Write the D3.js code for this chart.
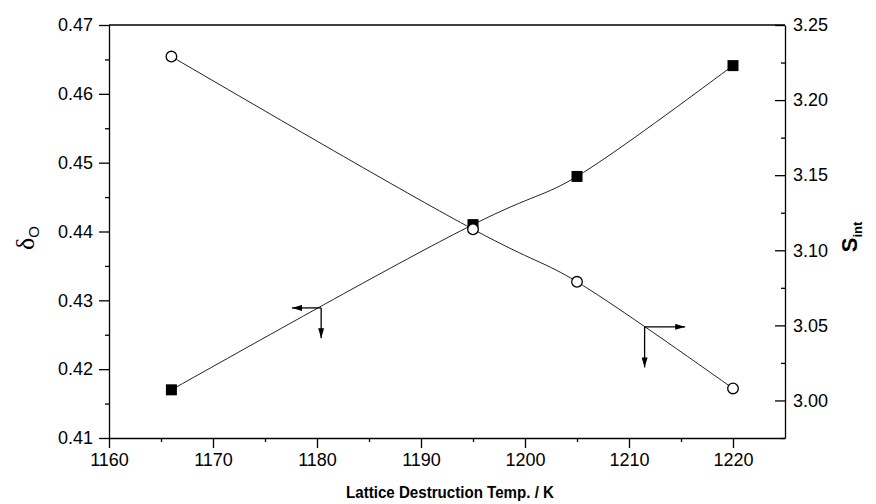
<!DOCTYPE html>
<html>
<head>
<meta charset="utf-8">
<script src="https://cdn.jsdelivr.net/npm/d3@7"></script>
<style>
  body { margin: 0; background: #fff; }
  svg { font-family: Arial, "Liberation Sans", sans-serif; }
</style>
</head>
<body>
<div id="container"></div>
<script>
// data
let temps = [1166, 1195, 1205, 1220];
let deltaO = [0.4170, 0.4410, 0.4480, 0.4641];   // filled squares, left axis
let sInt = [3.229, 3.114, 3.079, 3.008];         // open circles, right axis

let xTicks = [1160, 1170, 1180, 1190, 1200, 1210, 1220];
let yLeftTicks = [0.41, 0.42, 0.43, 0.44, 0.45, 0.46, 0.47];
let yRightTicks = [3.00, 3.05, 3.10, 3.15, 3.20, 3.25];

// arrow annotations: [corner x, corner y, end of horizontal x, end of vertical y]
let leftArrow = [1180.4, 0.4289, 1177.6, 0.4245];
let rightArrow = [1211.5, 3.049, 1215.4, 3.022];

let w = 876;
let h = 504;
let padLeft = 109, padRight = 785, padTop = 25, padBottom = 438;

let viz = d3.select("#container")
  .append("svg")
    .attr("width", w)
    .attr("height", h)
;

let xScale = d3.scaleLinear().domain([1160, 1225]).range([padLeft, padRight]);
let yLeft = d3.scaleLinear().domain([0.41, 0.47]).range([padBottom, padTop]);
let yRight = d3.scaleLinear().domain([2.975, 3.25]).range([padBottom, padTop]);

// frame top line
viz.append("line")
  .attr("x1", padLeft).attr("x2", padRight)
  .attr("y1", padTop).attr("y2", padTop)
  .attr("stroke", "black").attr("stroke-width", 1.3);

// minor ticks first
viz.append("g")
  .attr("transform", "translate(0," + padBottom + ")")
  .call(d3.axisBottom(xScale).tickValues(d3.range(1165, 1225, 10)).tickSize(4).tickFormat(""))
  .call(g => g.select(".domain").remove());
viz.append("g")
  .attr("transform", "translate(" + padLeft + ",0)")
  .call(d3.axisLeft(yLeft).tickValues(d3.range(0.415, 0.47, 0.01)).tickSize(4).tickFormat(""))
  .call(g => g.select(".domain").remove());
viz.append("g")
  .attr("transform", "translate(" + padRight + ",0)")
  .call(d3.axisRight(yRight).tickValues(d3.range(2.975, 3.25, 0.05)).tickSize(-4).tickFormat(""))
  .call(g => g.select(".domain").remove());

// main axes
let xAxisGroup = viz.append("g")
  .attr("transform", "translate(0," + padBottom + ")")
  .call(d3.axisBottom(xScale).tickValues(xTicks).tickSize(10).tickSizeOuter(0).tickPadding(5).tickFormat(d3.format("d")));

let yAxisLeftGroup = viz.append("g")
  .attr("transform", "translate(" + padLeft + ",0)")
  .call(d3.axisLeft(yLeft).tickValues(yLeftTicks).tickSize(10).tickSizeOuter(0).tickPadding(6).tickFormat(d3.format(".2f")));

let yAxisRightGroup = viz.append("g")
  .attr("transform", "translate(" + padRight + ",0)")
  .call(d3.axisRight(yRight).tickValues(yRightTicks).tickSize(-10).tickSizeOuter(0).tickPadding(8).tickFormat(d3.format(".2f")));

viz.selectAll(".tick text")
  .attr("font-size", 18)
  .attr("font-family", "Arial, 'Liberation Sans', sans-serif")
  .attr("fill", "black");
viz.selectAll(".domain, .tick line")
  .attr("stroke", "black")
  .attr("stroke-width", 1.3);

// lines
let graphGroup = viz.append("g");

let squareLine = d3.line()
  .x(function(d, i){ return xScale(temps[i]); })
  .y(function(d){ return yLeft(d); })
  .curve(d3.curveNatural);

let circleLine = d3.line()
  .x(function(d, i){ return xScale(temps[i]); })
  .y(function(d){ return yRight(d); })
  .curve(d3.curveNatural);

graphGroup.append("path")
  .attr("d", squareLine(deltaO))
  .attr("fill", "none")
  .attr("stroke", "#222")
  .attr("stroke-width", 1);

graphGroup.append("path")
  .attr("d", circleLine(sInt))
  .attr("fill", "none")
  .attr("stroke", "#222")
  .attr("stroke-width", 1);

graphGroup.selectAll(".sq").data(deltaO).enter()
  .append("rect")
  .attr("class", "sq")
  .attr("x", function(d, i){ return xScale(temps[i]) - 5.5; })
  .attr("y", function(d){ return yLeft(d) - 5.5; })
  .attr("width", 11)
  .attr("height", 11)
  .attr("fill", "black");

graphGroup.selectAll(".circ").data(sInt).enter()
  .append("circle")
  .attr("class", "circ")
  .attr("cx", function(d, i){ return xScale(temps[i]); })
  .attr("cy", function(d){ return yRight(d); })
  .attr("r", 5.3)
  .attr("fill", "white")
  .attr("stroke", "black")
  .attr("stroke-width", 1.3);

// arrows
let defs = viz.append("defs");
defs.append("marker")
  .attr("id", "head")
  .attr("viewBox", "0 0 10 6")
  .attr("refX", 10).attr("refY", 3)
  .attr("markerWidth", 10).attr("markerHeight", 6)
  .attr("markerUnits", "userSpaceOnUse")
  .attr("orient", "auto")
  .append("path")
  .attr("d", "M0,0 L10,3 L0,6 Z")
  .attr("fill", "black");

function drawArrow(a, yScale){
  let cx = xScale(a[0]), cy = yScale(a[1]);
  viz.append("line")
    .attr("x1", cx).attr("y1", cy)
    .attr("x2", xScale(a[2])).attr("y2", cy)
    .attr("stroke", "black").attr("stroke-width", 1.3)
    .attr("marker-end", "url(#head)");
  viz.append("line")
    .attr("x1", cx).attr("y1", cy)
    .attr("x2", cx).attr("y2", yScale(a[3]))
    .attr("stroke", "black").attr("stroke-width", 1.3)
    .attr("marker-end", "url(#head)");
}
drawArrow(leftArrow, yLeft);
drawArrow(rightArrow, yRight);

// axis titles
viz.append("text")
  .attr("x", (padLeft + padRight) / 2 + 3)
  .attr("y", 498)
  .attr("text-anchor", "middle")
  .attr("font-size", 16)
  .attr("font-weight", "bold")
  .attr("textLength", 208)
  .attr("lengthAdjust", "spacingAndGlyphs")
  .text("Lattice Destruction Temp. / K");

let leftTitle = viz.append("text")
  .attr("transform", "translate(34," + 238 + ") rotate(-90)")
  .attr("text-anchor", "middle");
leftTitle.append("tspan")
  .attr("font-size", 26)
  .attr("font-family", "'Liberation Serif', serif")
  .text("δ");
leftTitle.append("tspan")
  .attr("font-size", 15)
  .attr("dy", 5)
  .text("O");

let rightTitle = viz.append("text")
  .attr("transform", "translate(857," + 237 + ") rotate(-90)")
  .attr("text-anchor", "middle")
  .attr("font-weight", "bold");
rightTitle.append("tspan")
  .attr("font-size", 22)
  .text("S");
rightTitle.append("tspan")
  .attr("font-size", 13)
  .attr("dy", 5)
  .text("int");
</script>
</body>
</html>
